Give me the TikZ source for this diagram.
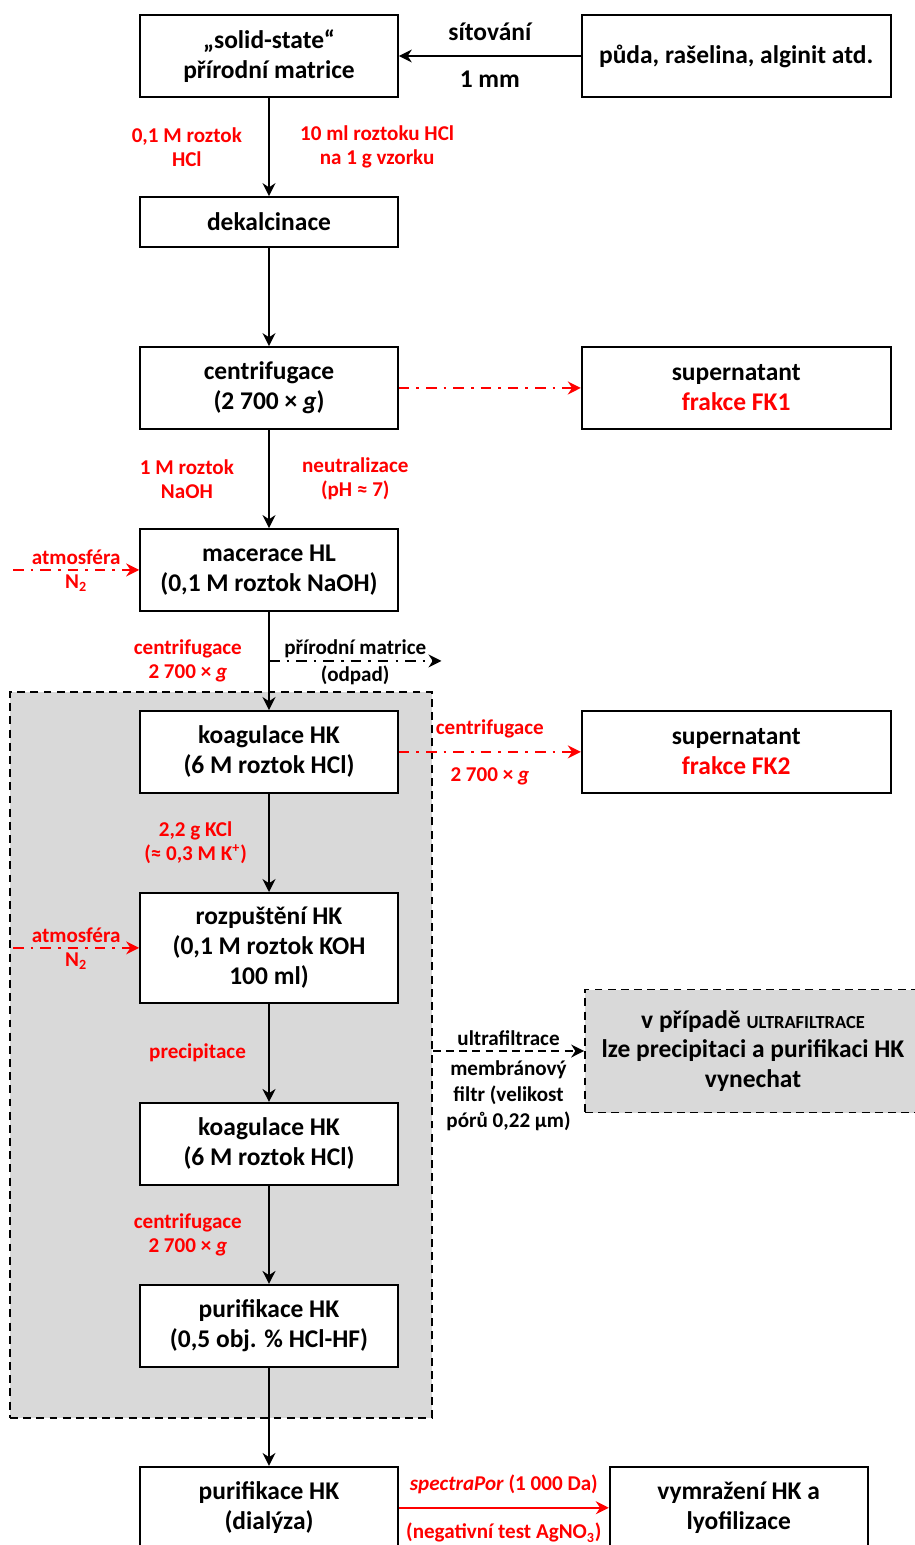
\documentclass[tikz,border=0pt]{standalone}
\usepackage{fontspec}
\setmainfont{Carlito}
\usetikzlibrary{arrows.meta, positioning, calc, fit}
\definecolor{zonegray}{RGB}{217,217,217}

\begin{document}
\begin{tikzpicture}[
        x=0.02cm, y=-0.02cm,
        font={\bfseries\fontsize{14.5}{17}\selectfont},
        process/.style={rectangle, draw, line width=1pt, fill=white, align=center, minimum width=5.16cm, minimum height=1.64cm},
        sidebox/.style={process, minimum width=6.18cm},
        zone/.style={rectangle, draw, line width=1pt, fill=zonegray, dash pattern=on 4.5pt off 3pt, inner sep=0pt},
        note/.style={align=center, font={\bfseries\fontsize{12}{13.6}\selectfont}},
        rednote/.style={note, text=red},
        arrow/.style={-{Stealth[length=2.6mm, width=2.6mm]}, line width=0.9pt},
        redflow/.style={arrow, red, line width=1pt, dash pattern=on 6pt off 4pt on 1.5pt off 4pt},
        redsolid/.style={arrow, red, line width=1pt},
        wasteflow/.style={arrow, dash pattern=on 6pt off 4pt on 1.5pt off 4pt},
        ufflow/.style={arrow, dash pattern=on 4.5pt off 3pt},
        node distance=1.965cm and 3.64cm
        ]

        \useasboundingbox (0,0) rectangle (915,1545);

        % Grey zone (HK steps)
        \coordinate (z1) at (10,692);
        \coordinate (z2) at (432,1418);
        \node (hkzone) [zone, fit=(z1)(z2)] {};

        % Nodes
        \node (solid) [process] at (269,56) {„solid-state“\\přírodní matrice};
        \node (soil) [sidebox, right=of solid] {půda, rašelina, alginit atd.};
        \node (dekal) [process, below=of solid, minimum height=1cm] {dekalcinace};
        \node (centr) [process, below=of dekal] {centrifugace\\(2~700 × \textit{g})};
        \node (fk1) [sidebox, right=of centr] {supernatant\\\textcolor{red}{frakce FK1}};
        \node (macer) [process, below=of centr] {macerace HL\\(0,1 M roztok NaOH)};
        \node (koag1) [process, below=of macer] {koagulace HK\\(6 M roztok HCl)};
        \node (fk2) [sidebox, right=of koag1] {supernatant\\\textcolor{red}{frakce FK2}};
        \node (rozp) [process, below=of koag1, minimum height=2.2cm] {rozpuštění HK\\(0,1 M roztok KOH\\100 ml)};
        \node (koag2) [process, below=of rozp] {koagulace HK\\(6 M roztok HCl)};
        \node (purif) [process, below=of koag2] {purifikace HK\\(0,5 obj. \% HCl-HF)};
        \node (dial) [process, below=of purif] {purifikace HK\\(dialýza)};
        \node (lyo) [process, right=4.2cm of dial] {vymražení HK a\\lyofilizace};
        \node (uf) [zone, inner sep=0.333em, align=center, minimum width=6.72cm, minimum height=2.46cm] at (753,1051) {v případě {\fontsize{10.5}{12}\selectfont ULTRAFILTRACE}\\lze precipitaci a purifikaci HK\\vynechat};

        % Free ends
        \coordinate (gas1) at ([xshift=-2.52cm]macer.west);
        \coordinate (gas2) at ([xshift=-2.52cm]rozp.west);
        \coordinate (split) at ($(macer.south)!0.5!(koag1.north)$);
        \coordinate (waste) at ([xshift=3.45cm]split);

        % Arrows with labels
        \draw [arrow] (soil) -- node[above=5pt] {sítování} node[below=5pt] {1 mm} (solid);
        \draw [arrow] (solid) -- node[rednote, left=0.41cm] {0,1 M roztok\\HCl} node[rednote, right=0.49cm] {10 ml roztoku HCl\\na 1 g vzorku} (dekal);
        \draw [arrow] (dekal) -- (centr);
        \draw [redflow] (centr) -- (fk1);
        \draw [arrow] (centr) -- node[rednote, left=0.57cm] {1 M roztok\\NaOH} node[rednote, right=0.53cm] {neutralizace\\(pH ≈ 7)} (macer);
        \draw [redflow] (gas1) -- node[rednote, above=-1pt] {atmosféra} node[rednote, below=-1pt] {N\textsubscript{2}} (macer);
        \draw [arrow] (macer) -- node[rednote, left=0.41cm] {centrifugace\\2~700 × \textit{g}} (koag1);
        \draw [wasteflow] (split) -- node[note, above=-2pt] {přírodní matrice} node[note, below=-1pt] {(odpad)} (waste);
        \draw [redflow] (koag1) -- node[rednote, above=4pt] {centrifugace} node[rednote, below=5pt] {2~700 × \textit{g}} (fk2);
        \draw [arrow] (koag1) -- node[rednote, left=0.31cm] {2,2 g KCl\\(≈ 0,3 M K\textsuperscript{+})} (rozp);
        \draw [redflow] (gas2) -- node[rednote, above=-1pt] {atmosféra} node[rednote, below=-1pt] {N\textsubscript{2}} (rozp);
        \draw [arrow] (rozp) -- node[rednote, left=0.33cm] {precipitace} (koag2);
        \draw [ufflow] (hkzone.east |- uf.west) -- node[note, above=-1pt] {ultrafiltrace} node[note, below=2pt, font={\bfseries\fontsize{12}{14.7}\selectfont}] {membránový\\filtr (velikost\\pórů 0,22 µm)} (uf);
        \draw [arrow] (koag2) -- node[rednote, left=0.41cm] {centrifugace\\2~700 × \textit{g}} (purif);
        \draw [arrow] (purif) -- (dial);
        \draw [redsolid] (dial) -- node[rednote, above=4pt] {\textit{spectraPor} (1~000 Da)} node[rednote, below=5pt] {(negativní test AgNO\textsubscript{3})} (lyo);

    \end{tikzpicture}
\end{document}
